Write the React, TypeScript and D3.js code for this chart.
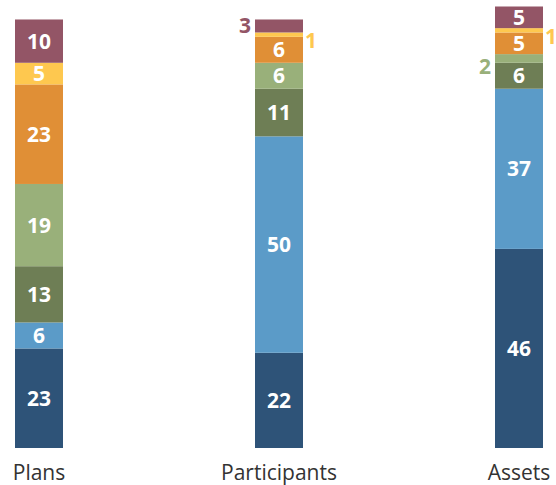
import React from "react";
import * as d3 from "d3";

const categories = ["Plans", "Participants", "Assets"];
const seriesNames = ["s1", "s2", "s3", "s4", "s5", "s6", "s7"];
const s1 = [23, 22, 46];
const s2 = [6, 50, 37];
const s3 = [13, 11, 6];
const s4 = [19, 6, 2];
const s5 = [23, 6, 5];
const s6 = [5, 1, 1];
const s7 = [10, 3, 5];
const seriesValues = [s1, s2, s3, s4, s5, s6, s7];

const colors = ["#2e5378", "#5b9bc8", "#6e7e55", "#99b07a", "#e08f36", "#fec84f", "#935566"];
// side and offset for labels of small segments
const outsideSide = ["right", "right", "left", "left", "right", "right", "left"];
const outsideDy = [0, 0, 0, 8, 0, 6, -1];

const W = 556;
const H = 485;

export default function App() {
  const x = d3.scalePoint<string>().domain(categories).range([39, 519]);
  const y = d3.scaleLinear().domain([0, 102]).range([448, 6.5]);
  const barW = 48;

  const table = categories.map((c, i) => {
    const row: any = { cat: c };
    seriesNames.forEach((s, j) => (row[s] = seriesValues[j][i]));
    return row;
  });
  const stacked = d3.stack<any>().keys(seriesNames)(table);

  const font = "'Open Sans', 'Noto Sans', sans-serif";

  return (
    <svg width={W} height={H} style={{ position: "absolute", left: 0, top: 0 }}>
      {stacked.map((layer, j) => (
        <g key={j}>
          {layer.map((d, i) => {
            const cx = x(categories[i])!;
            const y0 = y(d[0]);
            const y1 = y(d[1]);
            const v = d[1] - d[0];
            const inside = v >= 4;
            const side = outsideSide[j];
            return (
              <g key={i}>
                <rect x={cx - barW / 2} y={y1} width={barW} height={y0 - y1} fill={colors[j]} />
                {inside ? (
                  <text
                    x={cx}
                    y={(y0 + y1) / 2}
                    dy="0.36em"
                    textAnchor="middle"
                    fill="#fff"
                    fontFamily={font}
                    fontWeight={700}
                    fontSize={21}
                  >
                    {v}
                  </text>
                ) : (
                  <text
                    x={side === "left" ? cx - barW / 2 - 4 : cx + barW / 2 + 2}
                    y={(y0 + y1) / 2 + outsideDy[j]}
                    dy="0.36em"
                    textAnchor={side === "left" ? "end" : "start"}
                    fill={colors[j]}
                    fontFamily={font}
                    fontWeight={700}
                    fontSize={21}
                  >
                    {v}
                  </text>
                )}
              </g>
            );
          })}
        </g>
      ))}
      {categories.map((c) => (
        <text
          key={c}
          x={x(c)!}
          y={480}
          textAnchor="middle"
          fill="#333"
          fontFamily={font}
          fontSize={21}
        >
          {c}
        </text>
      ))}
    </svg>
  );
}
